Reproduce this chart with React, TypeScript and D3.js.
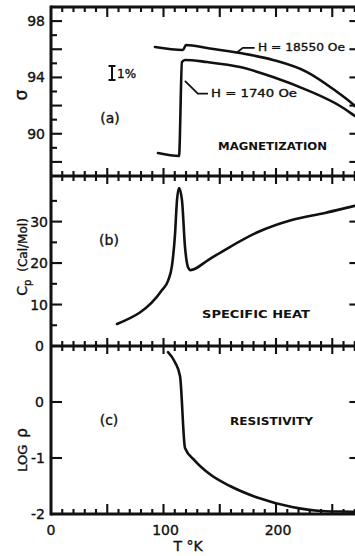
import React from "react";
import * as d3 from "d3";

// ---- data ----
const magHighT = [92.4, 117.3, 120, 138.7, 168, 197.3, 227.6, 250.7, 270.2, 275];
const magHighV = [96.16, 95.95, 96.3, 96.09, 95.73, 95.24, 94.38, 93.18, 91.97, 91.6];
const magLowT = [95.1, 113.8, 116.4, 119.1, 138.7, 168, 197.3, 227.6, 256.9, 270.2, 275];
const magLowV = [88.63, 88.42, 95.09, 95.24, 95.09, 94.74, 94.03, 93.1, 91.97, 91.26, 91.0];
const heatT = [58.7, 98.7, 104, 107.6, 110.2, 112, 113.8, 116.4, 119.1, 121.8, 124, 140, 154.7, 184, 214, 243.6, 270.2, 275];
const heatV = [5.3, 13.5, 15.7, 19.5, 26.8, 35.2, 38.1, 35.2, 23.9, 19, 18.3, 20.8, 23.2, 27.5, 30.4, 32.1, 33.8, 34.1];
const resT = [104, 110.2, 114.7, 119.1, 128, 141.3, 159.1, 184, 214.2, 243.6, 270.2, 275];
const resV = [0.89, 0.71, 0.46, -0.82, -1.05, -1.29, -1.5, -1.71, -1.875, -1.95, -1.96, -1.965];

const xLabels = [0, 100, 200];
const magLabels = [98, 94, 90];
const heatLabels = [0, 10, 20, 30];
const resLabels = [0, -1, -2];

const FONT = "DejaVu Sans, Verdana, sans-serif";

export default function App() {
  const W = 355, H = 556;
  const x = d3.scaleLinear().domain([0, 275]).range([51, 360.4]);
  const yA = d3.scaleLinear().domain([87, 99]).range([176, 7]);
  const yB = d3.scaleLinear().domain([0, 41]).range([346, 176]);
  const yC = d3.scaleLinear().domain([-2, 1]).range([514, 346]);
  const left = x(0), right = x(275);
  const rows = [7, 176, 346, 514];

  const mk = (ys: d3.ScaleLinear<number, number>, T: number[], V: number[], curve: any) =>
    d3.line<number>().x((_, i) => x(T[i])).y((_, i) => ys(V[i])).curve(curve)(T.map((_, i) => i)) || "";

  const xt = d3.range(10, 275, 10);
  const ticks: JSX.Element[] = [];
  rows.forEach((ry, ri) => {
    xt.forEach((t) => {
      const major = t % 50 === 0;
      const L = major ? 10 : 5;
      const up = ri === 0 ? 0 : (ri === 3 ? L : (major ? 8 : 5));
      const down = ri === 0 ? L : (ri === 3 ? 0 : (major ? 8 : 5));
      ticks.push(<line key={`x${ri}-${t}`} x1={x(t)} x2={x(t)} y1={ry - up} y2={ry + down} />);
    });
  });
  d3.range(88, 99, 1).forEach((v) => {
    const L = v % 2 === 0 ? 11 : 6;
    ticks.push(<line key={`ya${v}`} x1={left} x2={left + L} y1={yA(v)} y2={yA(v)} />);
    if (v % 2 === 0) ticks.push(<line key={`yar${v}`} x1={right} x2={right - 11} y1={yA(v)} y2={yA(v)} />);
  });
  d3.range(5, 40, 5).forEach((v) => {
    const L = v % 10 === 0 ? 11 : 6;
    ticks.push(<line key={`yb${v}`} x1={left} x2={left + L} y1={yB(v)} y2={yB(v)} />);
    if (v % 10 === 0) ticks.push(<line key={`ybr${v}`} x1={right} x2={right - 11} y1={yB(v)} y2={yB(v)} />);
  });
  [0, -1].forEach((v) => {
    ticks.push(<line key={`yc${v}`} x1={left} x2={left + 11} y1={yC(v)} y2={yC(v)} />);
    ticks.push(<line key={`ycr${v}`} x1={right} x2={right - 11} y1={yC(v)} y2={yC(v)} />);
  });

  const curveStroke = { fill: "none", stroke: "#111", strokeWidth: 2.6, strokeLinejoin: "round" as const, strokeLinecap: "round" as const };

  return (
    <svg width={W} height={H} style={{ position: "absolute", left: 0, top: 0, background: "#fff" }}>
      <rect x={0} y={0} width={W} height={H} fill="#fff" />
      <g stroke="#111" strokeWidth={2.1}>{ticks}</g>
      <g stroke="#111" strokeWidth={3} fill="none">
        <line x1={left} x2={left} y1={rows[0] - 1.5} y2={rows[3] + 1.5} />
        {rows.map((ry, i) => <line key={i} x1={left} x2={right} y1={ry} y2={ry} />)}
        <line x1={right} x2={right} y1={rows[0]} y2={rows[3]} />
      </g>

      <path d={mk(yA, magHighT, magHighV, d3.curveMonotoneX)} {...curveStroke} />
      <path d={mk(yA, magLowT, magLowV, d3.curveMonotoneX)} {...curveStroke} />
      <path d={mk(yB, heatT, heatV, d3.curveMonotoneX)} {...curveStroke} />
      <path d={mk(yC, resT, resV, d3.curveMonotoneX)} {...curveStroke} />

      <polyline points={`${x(165)},${yA(95.75)} ${x(170.5)},${yA(96.1)} ${x(181)},${yA(96.1)}`} fill="none" stroke="#111" strokeWidth={1.8} />
      <polyline points={`${x(119)},${yA(93.75)} ${x(130.5)},${yA(92.85)} ${x(139.5)},${yA(92.85)}`} fill="none" stroke="#111" strokeWidth={1.8} />

      <g fontFamily={FONT} fill="#111" fontSize={14} stroke="#111" strokeWidth={0.35}>
        {xLabels.map((t) => (
          <text key={`xl${t}`} x={x(t) + (t === 0 ? 0 : 2)} y={535} textAnchor="middle">{t}</text>
        ))}
        <text x={188} y={551} textAnchor="middle">T °K</text>
        {magLabels.map((v) => (
          <text key={`ma${v}`} x={45} y={yA(v) + 5} textAnchor="end">{v}</text>
        ))}
        {heatLabels.map((v) => (
          <text key={`hb${v}`} x={v === 0 ? 44 : 48} y={yB(v) + 5} textAnchor="end">{v}</text>
        ))}
        {resLabels.map((v) => (
          <text key={`rc${v}`} x={v === 0 ? 44 : 45} y={yC(v) + 5} textAnchor="end">{v === 0 ? "0" : `-${-v}`}</text>
        ))}

        <text transform="translate(27,95) rotate(-90)" textAnchor="middle" fontSize={17}>σ</text>
        <text transform="translate(27,257) rotate(-90)" textAnchor="middle" fontSize={12}>
          <tspan fontSize={14}>C</tspan><tspan fontSize={10} dy={4}>p</tspan><tspan dy={-4} dx={8}>(Cal/Mol)</tspan>
        </text>
        <text transform="translate(27,450) rotate(-90)" textAnchor="middle" fontSize={13}>
          LOG<tspan dx={7} fontSize={15}>ρ</tspan>
        </text>

        <text x={110} y={123} textAnchor="middle" fontSize={14}>(a)</text>
        <text x={109} y={245} textAnchor="middle" fontSize={14}>(b)</text>
        <text x={109} y={425} textAnchor="middle" fontSize={14}>(c)</text>

        <text x={117} y={78} fontSize={12}>1%</text>

        <text x={258} y={51} fontSize={11} textLength={87} lengthAdjust="spacingAndGlyphs">H = 18550 Oe</text>
        <text x={211} y={97} fontSize={11} textLength={86} lengthAdjust="spacingAndGlyphs">H = 1740 Oe</text>

        <text x={218} y={150} fontSize={10.5} fontWeight="bold" strokeWidth={0} textLength={109} lengthAdjust="spacingAndGlyphs">MAGNETIZATION</text>
        <text x={202} y={318} fontSize={10.5} fontWeight="bold" strokeWidth={0} textLength={108} lengthAdjust="spacingAndGlyphs">SPECIFIC  HEAT</text>
        <text x={230} y={425} fontSize={10.5} fontWeight="bold" strokeWidth={0} textLength={83} lengthAdjust="spacingAndGlyphs">RESISTIVITY</text>
      </g>
      <g stroke="#111" strokeWidth={2}>
        <line x1={112} x2={112} y1={66} y2={80} />
        <line x1={108.5} x2={115.5} y1={66} y2={66} />
        <line x1={108.5} x2={115.5} y1={80} y2={80} />
      </g>
    </svg>
  );
}
